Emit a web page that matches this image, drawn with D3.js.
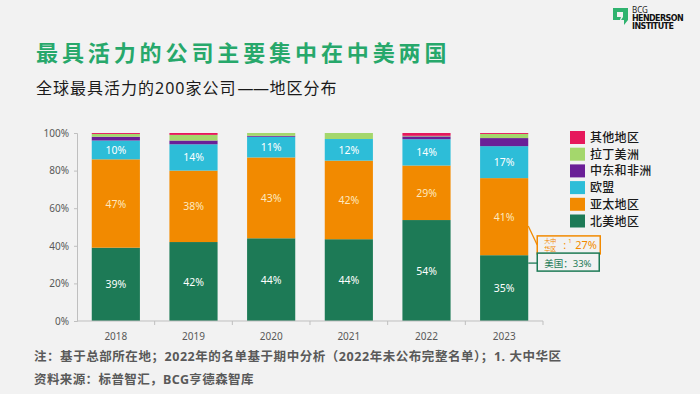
<!DOCTYPE html>
<html><head><meta charset="utf-8">
<script src="https://cdn.jsdelivr.net/npm/d3@7"></script>
<style>
html,body{margin:0;padding:0;background:#f2f2f2;}
svg{display:block;font-family:"Noto Sans","Noto Sans CJK SC",sans-serif;}
</style></head>
<body>
<svg id="chart" width="700" height="394"></svg>
<script>
const years = ["2018","2019","2020","2021","2022","2023"];
const northAmerica = [39, 42, 44, 43.5, 53.7, 35];
const asiaPacific = [47, 38, 43, 41.8, 29, 41];
const europeanUnion = [10, 14, 11, 11.5, 14, 17];
const middleEastAfrica = [2, 2, 0.5, 0, 1.5, 4.3];
const latinAmerica = [1.5, 3, 1.5, 3.2, 0.3, 2.2];
const otherRegions = [0.5, 1, 0, 0, 1.5, 0.5];
const seriesNames = ["北美地区","亚太地区","欧盟","中东和非洲","拉丁美洲","其他地区"];
const seriesColors = ["#1d7a56","#f28a00","#2dbdd8","#6a1f97","#a4d76c","#e6185c"];
const labelColors = ["#ffffff","#fde8bf","#ffffff"];
const yTicks = [0,20,40,60,80,100];
const title = "最具活力的公司主要集中在中美两国";
const subtitleA = "全球最具活力的200家公司";
const subtitleDash = "——";
const subtitleB = "地区分布";
const note1 = "注：基于总部所在地；2022年的名单基于期中分析（2022年未公布完整名单）；1. 大中华区";
const note2 = "资料来源：标普智汇，BCG亨德森智库";
const greaterChina = 27, usa = 33;

const seriesValues = [northAmerica, asiaPacific, europeanUnion, middleEastAfrica, latinAmerica, otherRegions];
const rows = years.map((y,i)=>{const r={year:y}; seriesNames.forEach((n,k)=>r[n]=seriesValues[k][i]); return r;});

const svg = d3.select("#chart");
svg.append("rect").attr("width",700).attr("height",394).attr("fill","#f2f2f2");

// titles
svg.append("text").attr("x",36).attr("y",61).attr("fill","#27a86b")
  .attr("font-size",22).attr("font-weight",700).attr("letter-spacing",3.9).text(title);
const st = svg.append("text").attr("x",36).attr("y",94).attr("fill","#1a1a1a").attr("font-size",16);
st.append("tspan").attr("letter-spacing",1).text(subtitleA);
st.append("tspan").attr("letter-spacing",-0.5).attr("dx",1).text(subtitleDash);
st.append("tspan").attr("letter-spacing",1).attr("dx",1).text(subtitleB);

// logo
const logo = svg.append("g");
logo.append("path").attr("d","M613,8 h15 v12 l-4,5 v-5 h-11 z").attr("fill","#2fb36f");
logo.append("path").attr("d","M617,12 h6 v5 l-2,3 h-1 l1,-3 h-4 z").attr("fill","#f2f2f2");
logo.append("text").attr("x",632).attr("y",13).attr("font-size",8).attr("fill","#222").text("BCG");
logo.append("text").attr("x",632).attr("y",21).attr("font-size",8).attr("font-weight",900).attr("fill","#111").attr("font-family","DejaVu Sans").attr("letter-spacing",-0.6).text("HENDERSON");
logo.append("text").attr("x",632).attr("y",29).attr("font-size",8).attr("font-weight",900).attr("fill","#111").attr("font-family","DejaVu Sans").attr("letter-spacing",-0.6).text("INSTITUTE");

// scales
const x = d3.scaleBand().domain(years).range([77,543]).paddingInner(0.38).paddingOuter(0.19);
const y = d3.scaleLinear().domain([0,100]).range([321,133]);

const stack = d3.stack().keys(seriesNames)(rows);

const gBars = svg.append("g");
stack.forEach((layer,k)=>{
  gBars.selectAll(null).data(layer).enter().append("rect")
    .attr("x",d=>x(d.data.year)).attr("width",x.bandwidth())
    .attr("y",d=>y(d[1])).attr("height",d=>Math.max(0,y(d[0])-y(d[1])))
    .attr("fill",seriesColors[k]);
  if(k<3){
    gBars.selectAll(null).data(layer).enter().append("text")
      .attr("x",d=>x(d.data.year)+x.bandwidth()/2)
      .attr("y",d=>(y(d[0])+y(d[1]))/2+4)
      .attr("text-anchor","middle").attr("font-size",10.5).attr("fill",labelColors[k])
      .text(d=>Math.round(d[1]-d[0])+"%");
  }
});

// axes
const axisColor="#bfbfbf";
const yAxis = svg.append("g").attr("transform","translate(77,0)")
  .call(d3.axisLeft(y).tickValues(yTicks).tickSize(3).tickFormat(d=>d+"%"));
yAxis.selectAll("path,line").attr("stroke",axisColor);
yAxis.selectAll("text").attr("fill","#595959").attr("font-size",10).attr("font-family","Noto Sans").attr("x",-8);

const step = x.step();
const xAxis = svg.append("g").attr("transform","translate(0,321)");
xAxis.append("line").attr("x1",77).attr("x2",543).attr("stroke",axisColor);
const bounds = years.slice(1).map(d=>x(d)-step*x.paddingInner()/2).concat([543]);
xAxis.selectAll(null).data(bounds).enter().append("line")
  .attr("x1",d=>d).attr("x2",d=>d).attr("y1",0).attr("y2",4).attr("stroke",axisColor);
xAxis.selectAll(null).data(years).enter().append("text")
  .attr("x",d=>x(d)+x.bandwidth()/2).attr("y",19).attr("text-anchor","middle")
  .attr("font-size",10).attr("fill","#595959").text(d=>d);

// legend
const legend = svg.append("g");
seriesNames.slice().reverse().forEach((n,i)=>{
  const k = seriesNames.length-1-i;
  const gy = 131 + i*16.7;
  legend.append("rect").attr("x",570).attr("y",gy).attr("width",15).attr("height",13).attr("fill",seriesColors[k]);
  legend.append("text").attr("x",590).attr("y",gy+11).attr("font-size",12).attr("font-weight",500)
    .attr("fill","#1a1a1a").attr("letter-spacing",0.3).text(n);
});

// annotations
const last = years[years.length-1];
const bx = x(last)+x.bandwidth();
const na = northAmerica[years.length-1];
const boxX = bx+9, boxW = 63;
// greater china
const oy = y(na + asiaPacific[years.length-1]*0.38);
svg.append("line").attr("x1",bx).attr("y1",oy).attr("x2",boxX).attr("y2",oy+19).attr("stroke","#f28a00").attr("stroke-width",1.3);
svg.append("rect").attr("x",boxX).attr("y",oy+10).attr("width",boxW).attr("height",18).attr("fill","#f2f2f2").attr("stroke","#f28a00").attr("stroke-width",1.5);
svg.append("text").attr("x",boxX+13).attr("y",oy+17.5).attr("font-size",6).attr("fill","#f28a00").attr("text-anchor","middle").text("大中");
svg.append("text").attr("x",boxX+13).attr("y",oy+25).attr("font-size",6).attr("fill","#f28a00").attr("text-anchor","middle").text("华区");
svg.append("text").attr("x",boxX+26).attr("y",oy+23).attr("font-size",11).attr("fill","#f28a00").text(":");
svg.append("text").attr("x",boxX+31).attr("y",oy+17).attr("font-size",6).attr("fill","#f28a00").text("1");
svg.append("text").attr("x",boxX+38).attr("y",oy+23).attr("font-size",11).attr("fill","#f28a00").text(greaterChina+"%");
// usa
const gy2 = y(na*0.88);
svg.append("line").attr("x1",bx).attr("y1",gy2).attr("x2",boxX).attr("y2",gy2).attr("stroke","#1d7a56").attr("stroke-width",1.3);
svg.append("rect").attr("x",boxX).attr("y",gy2-10).attr("width",boxW-1).attr("height",18).attr("fill","#f2f2f2").attr("stroke","#1d7a56").attr("stroke-width",1.5);
svg.append("text").attr("x",boxX+7).attr("y",gy2+3.5).attr("font-size",9.5).attr("fill","#1d7a56").text("美国："+usa+"%");

// notes
svg.append("text").attr("x",34).attr("y",361).attr("font-size",12.5).attr("font-weight",700).attr("fill","#595959").attr("letter-spacing",0.55).text(note1);
svg.append("text").attr("x",34).attr("y",384).attr("font-size",12.5).attr("font-weight",700).attr("fill","#595959").attr("letter-spacing",0.4).text(note2);
</script>
</body></html>
